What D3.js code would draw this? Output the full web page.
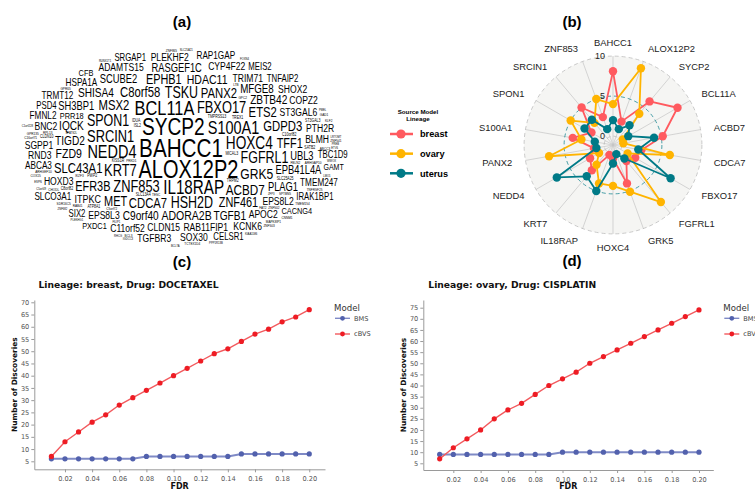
<!DOCTYPE html>
<html>
<head>
<meta charset="utf-8">
<script src="https://cdn.jsdelivr.net/npm/d3@7"></script>
<style>
  body { margin: 0; background: #fff; }
  svg { display: block; }
  .sans { font-family: "Liberation Sans", Arial, Helvetica, sans-serif; }
  .dv { font-family: "DejaVu Sans", Verdana, sans-serif; }
</style>
</head>
<body>
<svg width="755" height="492"></svg>
<script>
// ---------- data ----------
var cloudWords = ["BAHCC1","ALOX12P2","SYCP2","BCL11A","IL18RAP","S100A1","NEDD4","HOXC4","SRCIN1","FBXO17",
  "KRT7","ZNF853","FGFRL1","SPON1","HSH2D","TSKU","GRK5","ACBD7","CDCA7","PANX2",
  "MSX2","C8orf58","ETS2","SLC43A1","GDPD3","ZNF461","EFR3B","EPHB1","TFF1","MET",
  "ADORA2B","HDAC11","FZD9","ZBTB42","TIGD2","C9orf40","IQCK","TGFB1","SHISA4","MFGE8",
  "EPB41L4A","PLAG1","SH3BP1","SCUBE2","RASGEF1C","UBL3","ITPKC","RAB11FIP1","ST3GAL6","CLDN15",
  "EPS8L2","TRIM71","EPS8L3","CYP4F22","APOC2","HOXD3","ADAMTS15","C11orf52","BLMH","PTH2R",
  "RND3","BNC2","KCNK6","SGPP1","PLEKHF2","SOX30","COPZ2","SHOX2","TGFBR3","SLCO3A1",
  "HSPA1A","RAP1GAP","TMEM247","TRMT12","ABCA3","FMNL2","TNFAIP2","TBC1D9","CELSR1","SIX2",
  "PSD4","SRGAP1","IRAK1BP1","CACNG4","PXDC1","PRR18","MEIS2","CFB","GAMT",
  "TMPRSS13","ZNF502","SLC25A25","PRKD1","MICAL3","SPTBN5","TREX1","RAB41","PWP2","TESC",
  "KISS1R","TNFRSF25","SLC13A4","SDR16C5","CLDN10","ABCC3","ARHGEF10","C8orf82","CHODL","ATP8A1",
  "IKZF3","SATB2","MAPK8IP1","ST3GAL3","FBLN2","GPC2","ISL2","LTB","IDUA","ARHGAP10",
  "C16orf71","TRPM2","RPL13","GPR135","C10orf82","C5orf72","GPR65","FOXN4","FAT2","LMO1",
  "BCL3","COX15","PMEL","ZNF865","PPP1R13B","TCTEX1D4","ZNF682","TMEM154","PLEKHG1","GAD1",
  "ESPN","KLF2","C5orf49","ZNF541","PREB","LRTOMT","ZNF503","SPATS2L","RUNX1T1","ZFP3",
  "SLC25A21","KIAA1586","CNNM1","FILIP1","RHCG","IGDCC3","WWOX","ETV6","C1orf228","BCL7A"];
var cloudScore = [26.5,25.6,24.5,21,19.5,18.6,18.6,17.5,16.5,16.5,
  16.5,16.5,16,16,16,16,15.5,15,14.5,14.5,
  14.5,14.5,14.5,14.5,14.5,14,14,14,14,14,
  13.5,13.5,13.5,13,13,13,13,13,13,12.5,
  12,12,12,12,12,12,11.5,11,11,11,
  11,11,11,11,11,11,11,11,11,11,
  11,11,11,11,11,11,11,11,11,10.5,
  10.5,10.5,10.5,10.5,10.5,10.5,10,10,10,10,
  10,10,10,9.5,9.5,9.5,10,9.5,9,
  4.5,4,4.5,4,4.5,4,4.5,4,4.5,4,
  4.5,4,4.5,4,4.5,4,4,4.5,4,4.5,
  4,4.5,4,4.5,4,4,4.5,4,4.5,4,
  4,4.5,4,4,4.5,4,4,3.5,4,3.5,
  4,4,3.5,4,3.5,4,3.5,4,3.5,4,
  3.5,4,3.5,4,3.5,3.5,4,3.5,3.5,3.5,
  3.5,3.5,4,3.5,3.5,3.5,3.5,3.5,3.5,3.5];

var radarGenes = ["BAHCC1","ALOX12P2","SYCP2","BCL11A","ACBD7","CDCA7","FBXO17","FGFRL1","GRK5",
  "HOXC4","IL18RAP","KRT7","NEDD4","PANX2","S100A1","SPON1","SRCIN1","ZNF853"];
var lineages = ["breast","ovary","uterus"];
var radarBreast = [8.1,2.0,6.0,8.2,5.2,2.5,2.1,1.5,4.0,0.6,0.2,3.0,2.2,1.3,4.0,2.0,5.0,2.6];
var radarOvary  = [4.0,9.1,4.0,0.3,0.2,6.1,1.0,8.2,5.1,4.0,4.0,2.1,0.9,7.0,2.9,5.0,2.5,5.0];
var radarUterus = [2.0,1.0,2.1,1.1,4.1,2.1,7.2,1.1,0.1,1.2,5.0,4.0,7.0,1.0,1.2,3.0,3.0,1.0];
var radarGrid = [0,5,10];

var fdr = [0.01,0.02,0.03,0.04,0.05,0.06,0.07,0.08,0.09,0.10,0.11,0.12,0.13,0.14,0.15,0.16,0.17,0.18,0.19,0.20];
var breastBMS  = [6,6,6,6,6,6,6,7,7,7,7,7,7,7,8,8,8,8,8,8];
var breastCBVS = [7,13,17,21,24,28,31,34,37,40,43,46,49,51,54,57,59,62,64,67];
var ovaryBMS   = [9,9,9,9,9,9,9,9,9,10,10,10,10,10,10,10,10,10,10,10];
var ovaryCBVS  = [7,12,16,20,25,29,32,36,40,43,46,50,53,56,59,62,65,68,71,74];
var fdrTicks = [0.02,0.04,0.06,0.08,0.10,0.12,0.14,0.16,0.18,0.20];
var breastYTicks = [5,10,15,20,25,30,35,40,45,50,55,60,65,70];
var ovaryYTicks = [5,10,15,20,25,30,35,40,45,50,55,60,65,70,75];
var modelNames = ["BMS","cBVS"];

// ---------- setup ----------
var svg = d3.select("svg");
var lineageColor = d3.scaleOrdinal().domain(lineages).range(["#FF5A5F","#FFB400","#007A87"]);
var modelColor = d3.scaleOrdinal().domain(modelNames).range(["#5261ad","#ee1c24"]);
var modelLine = d3.scaleOrdinal().domain(modelNames).range(["#7f8ac6","#f25a5e"]);

// panel letters
[["(a)",182,27],["(b)",572,27],["(c)",182,267],["(d)",572,266]].forEach(function(p) {
  svg.append("text").attr("class","sans").attr("x",p[1]).attr("y",p[2])
    .attr("text-anchor","middle").attr("font-size",15).attr("font-weight","bold").text(p[0]);
});

// ---------- (a) word cloud ----------
// spiral placement, biggest words first (like R wordcloud with random.order = FALSE)
var region = {x0: 0, y0: 34, w: 362, h: 226};
var ccx = region.x0 + region.w / 2, ccy = region.y0 + region.h / 2;
var squeeze = 0.78;
var fontSize = d3.scaleLinear().domain([3.5, 26.5]).range([3.5, 26.5]);
var cloud = svg.append("g").attr("class","sans").attr("fill","#000");
var order = d3.range(cloudWords.length).sort(function(a, b) { return cloudScore[b] - cloudScore[a] || a - b; });
var placed = [];

function hits(b) {
  for (var j = 0; j < placed.length; j++) {
    var p = placed[j];
    if (b.x0 < p.x1 && b.x1 > p.x0 && b.y0 < p.y1 && b.y1 > p.y0) return true;
  }
  return false;
}

order.forEach(function(i, k) {
  var fs = fontSize(cloudScore[i]);
  var t = cloud.append("text").attr("font-size", fs).attr("text-anchor","middle").text(cloudWords[i]);
  var w = t.node().getComputedTextLength() * squeeze;
  var h = fs * 0.74, pad = fs > 6 ? 0.8 : 0.3;
  var theta = k * 4.11 - 2.54, r = 0, ok = false, px, py, b;
  while (r < 0.71) {
    px = ccx + r * Math.cos(theta) * region.w;
    py = ccy + r * Math.sin(theta) * region.h;
    b = {x0: px - w / 2 - pad, x1: px + w / 2 + pad, y0: py - h / 2 - pad, y1: py + h / 2 + pad};
    if (b.x0 >= region.x0 && b.x1 <= region.x0 + region.w &&
        b.y0 >= region.y0 && b.y1 <= region.y0 + region.h && !hits(b)) { ok = true; break; }
    theta += 0.07;
    r += 0.012 * 0.07 / (2 * Math.PI);
  }
  if (ok) {
    placed.push(b);
    t.attr("transform", "translate(" + px + "," + (py + h / 2) + ") scale(" + squeeze + ",1)");
  } else {
    t.remove();
  }
});

// legend between (a) and (b)
var leg = svg.append("g").attr("class","sans");
leg.append("text").attr("x",418).attr("y",114).attr("text-anchor","middle")
  .attr("font-size",6.2).attr("font-weight","bold").text("Source Model");
leg.append("text").attr("x",418).attr("y",120.5).attr("text-anchor","middle")
  .attr("font-size",6.2).attr("font-weight","bold").text("Lineage");
var legY = d3.scalePoint().domain(lineages).range([134, 173.3]);
var li = leg.selectAll("g.item").data(lineages).enter().append("g")
  .attr("transform", function(d) { return "translate(0," + legY(d) + ")"; });
li.append("line").attr("x1",390).attr("x2",413).attr("stroke", lineageColor).attr("stroke-width",2.5);
li.append("circle").attr("cx",401).attr("r",4.6).attr("fill", lineageColor);
li.append("text").attr("x",420).attr("dy","0.35em").attr("font-size",9.2).attr("font-weight","bold")
  .text(function(d) { return d; });

// ---------- (b) radar ----------
var rc = {x: 613, y: 145};
var rScale = d3.scaleLinear().domain([-1.11, 10]).range([0, 88.9]);
var angle = d3.scaleLinear().domain([0, radarGenes.length]).range([0, 2 * Math.PI]);
var radar = svg.append("g").attr("class","sans").attr("transform","translate(" + rc.x + "," + rc.y + ")");

radar.append("circle").attr("r", rScale(10)).attr("fill","#D7D6D1").attr("fill-opacity",0.25);
radar.selectAll("line.axis").data(radarGenes).enter().append("line")
  .attr("x2", function(d, i) { return Math.sin(angle(i)) * rScale(10); })
  .attr("y2", function(d, i) { return -Math.cos(angle(i)) * rScale(10); })
  .attr("stroke","#c4c4c4").attr("stroke-width",0.7);
radar.selectAll("circle.grid").data(radarGrid).enter().append("circle")
  .attr("r", function(d) { return rScale(d); })
  .attr("fill","none")
  .attr("stroke", function(d) { return d === 5 ? "#007A87" : "#b5b5b5"; })
  .attr("stroke-width",0.7).attr("stroke-dasharray","4,3");
radar.selectAll("text.glab").data(radarGrid).enter().append("text")
  .attr("x",-8).attr("y", function(d) { return -rScale(d); }).attr("dy","0.35em")
  .attr("text-anchor","end").attr("font-size",9).attr("fill","#222")
  .text(function(d) { return d; });
radar.selectAll("text.alab").data(radarGenes).enter().append("text")
  .attr("x", function(d, i) { return Math.sin(angle(i)) * rScale(10) * 1.15; })
  .attr("y", function(d, i) { return -Math.cos(angle(i)) * rScale(10) * 1.15; })
  .attr("dy","0.35em").attr("font-size",9.4).attr("fill","#222")
  .attr("text-anchor", function(d, i) {
    var s = Math.sin(angle(i));
    return s > 0.05 ? "start" : (s < -0.05 ? "end" : "middle");
  })
  .text(function(d) { return d; });

var radarSeries = [radarBreast, radarOvary, radarUterus];
var radial = d3.lineRadial()
  .angle(function(d, i) { return angle(i); })
  .radius(function(d) { return rScale(d); })
  .curve(d3.curveLinearClosed);
radarSeries.forEach(function(vals, s) {
  var col = lineageColor(lineages[s]);
  radar.append("path").attr("d", radial(vals)).attr("fill","none")
    .attr("stroke", col).attr("stroke-width",1.8).attr("stroke-linejoin","round");
  radar.selectAll("circle.pt" + s).data(vals).enter().append("circle")
    .attr("cx", function(d, i) { return Math.sin(angle(i)) * rScale(d); })
    .attr("cy", function(d, i) { return -Math.cos(angle(i)) * rScale(d); })
    .attr("r",4.2).attr("fill", col);
});

// ---------- (c), (d) line charts ----------
function lineChart(cfg) {
  var g = svg.append("g").attr("class","dv");
  var x = d3.scaleLinear().domain(cfg.xDomain).range([cfg.left, cfg.right]);
  var y = d3.scaleLinear().domain(cfg.yDomain).range([cfg.bottom, cfg.top]);

  var gx = g.append("g").attr("transform","translate(0," + cfg.bottom + ")")
    .call(d3.axisBottom(x).tickValues(fdrTicks).tickFormat(d3.format(".2f"))
      .tickSize(3).tickSizeOuter(0).tickPadding(4));
  var gy = g.append("g").attr("transform","translate(" + cfg.left + ",0)")
    .call(d3.axisLeft(y).tickValues(cfg.yTicks).tickSize(3).tickSizeOuter(0).tickPadding(2));
  [gx, gy].forEach(function(a) {
    a.select(".domain").attr("stroke","#9a9a9a");
    a.selectAll(".tick line").attr("stroke","#9a9a9a");
    a.selectAll(".tick text").attr("fill","#555").attr("font-size",6.6).attr("font-family",null);
    a.attr("font-family", null);
  });

  g.append("text").attr("x", cfg.titleX).attr("y",288).attr("font-size",9.2)
    .attr("font-weight","bold").attr("fill","#111").text(cfg.title);
  g.append("text").attr("transform","translate(" + (cfg.left - 17) + "," + ((cfg.top + cfg.bottom) / 2) + ") rotate(-90)")
    .attr("text-anchor","middle").attr("font-size",7.4).attr("font-weight","bold").attr("fill","#111")
    .text("Number of Discoveries");
  g.append("text").attr("x", (cfg.left + cfg.right) / 2).attr("y",489).attr("text-anchor","middle")
    .attr("font-size",8).attr("font-weight","bold").attr("fill","#111").text("FDR");

  var line = d3.line().x(function(d, i) { return x(fdr[i]); }).y(function(d) { return y(d); });
  cfg.series.forEach(function(vals, s) {
    var m = modelNames[s];
    g.append("path").attr("d", line(vals)).attr("fill","none")
      .attr("stroke", modelLine(m)).attr("stroke-width", s === 0 ? 2 : 1.4);
    g.selectAll("circle.s" + s).data(vals).enter().append("circle")
      .attr("cx", function(d, i) { return x(fdr[i]); })
      .attr("cy", function(d) { return y(d); })
      .attr("r",2.6).attr("fill", modelColor(m));
  });

  // legend
  g.append("text").attr("x", cfg.legX).attr("y",311).attr("font-size",8.6).attr("fill","#333").text("Model");
  var ly = d3.scalePoint().domain(modelNames).range([318.3, 334]);
  var items = g.selectAll("g.li").data(modelNames).enter().append("g")
    .attr("transform", function(d) { return "translate(" + cfg.legX + "," + ly(d) + ")"; });
  items.append("line").attr("x1",1).attr("x2",16).attr("stroke", modelLine).attr("stroke-width",1.4);
  items.append("circle").attr("cx",8.5).attr("r",2.4).attr("fill", modelColor);
  items.append("text").attr("x",20).attr("dy","0.35em").attr("font-size",6.6).attr("fill","#444")
    .text(function(d) { return d; });
}

lineChart({
  left: 34.3, right: 325, top: 300, bottom: 469.3,
  xDomain: [-0.0026, 0.2116], yDomain: [1.73, 70.94], yTicks: breastYTicks,
  title: "Lineage: breast, Drug: DOCETAXEL", titleX: 38.5, legX: 334,
  series: [breastBMS, breastCBVS]
});
lineChart({
  left: 423.3, right: 713.3, top: 300, bottom: 470,
  xDomain: [-0.002, 0.2105], yDomain: [1.99, 78.46], yTicks: ovaryYTicks,
  title: "Lineage: ovary, Drug: CISPLATIN", titleX: 428.3, legX: 723.3,
  series: [ovaryBMS, ovaryCBVS]
});
</script>
</body>
</html>
